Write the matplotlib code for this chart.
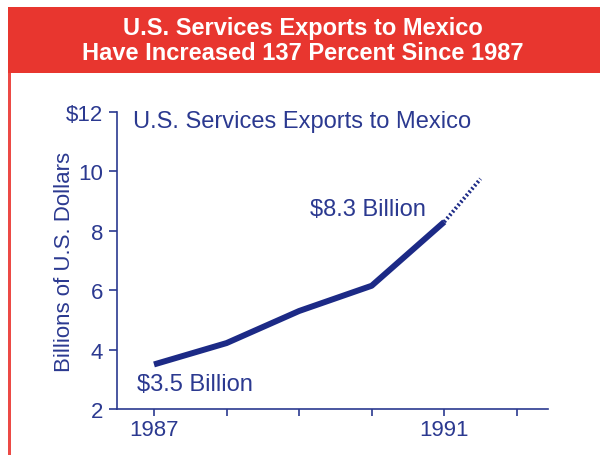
import matplotlib
matplotlib.use('Agg')
import matplotlib.pyplot as plt
from matplotlib.patches import Rectangle

plt.rcParams['font.family'] = ['Liberation Sans', 'DejaVu Sans']

# services exports, billions of dollars
years = [1987, 1988, 1989, 1990, 1991]
exports = [3.5, 4.22, 5.3, 6.15, 8.3]
# projected continuation past 1991
proj_years = [1991, 1991.5]
proj_exports = [8.3, 9.75]

xticks = [1987, 1988, 1989, 1990, 1991, 1992]
xticklabels = ['1987', '', '', '', '1991', '']
yticks = [2, 4, 6, 8, 10, 12]
yticklabels = ['2', '4', '6', '8', '10', '$12']

navy = '#2b3990'
line_col = '#1c2a86'
red = '#e8362f'

fig = plt.figure(figsize=(6, 4.56), dpi=100)
fig.patch.set_facecolor('white')

# red banner and left border
fig.patches.append(Rectangle((8/600, 1 - 74/456), 1 - 8/600, 66/456,
                             transform=fig.transFigure, facecolor=red,
                             edgecolor='none', zorder=0))
fig.patches.append(Rectangle((7.5/600, 0), 3/600, 1 - 74/456,
                             transform=fig.transFigure, facecolor='#ec4a45',
                             edgecolor='none', zorder=0))
fig.text(0.505, 1 - 28.5/456, 'U.S. Services Exports to Mexico', color='white',
         fontsize=17, fontweight='bold', ha='center', va='center')
fig.text(0.505, 1 - 53.5/456, 'Have Increased 137 Percent Since 1987', color='white',
         fontsize=17, fontweight='bold', ha='center', va='center')

ax = fig.add_axes([117/600, 46/456, (548 - 117)/600, (410 - 113)/456])
ax.plot(years, exports, color=line_col, linewidth=4.3, solid_capstyle='butt')
ax.plot(proj_years, proj_exports, color=line_col, linewidth=2.8,
        linestyle=(0, (0.5, 0.6)))

ax.set_xlim(1986.49, 1992.43)
ax.set_ylim(2, 12)
ax.set_xticks(xticks)
ax.set_xticklabels(xticklabels)
ax.set_yticks(yticks)
ax.set_yticklabels(yticklabels)

for side in ['top', 'right']:
    ax.spines[side].set_visible(False)
for side in ['left', 'bottom']:
    ax.spines[side].set_color(navy)
    ax.spines[side].set_linewidth(1.2)
ax.tick_params(colors=navy, labelcolor=navy, labelsize=16, length=6, width=1.2,
               direction='out', pad=4)
ax.tick_params(axis='x', length=5, pad=2)

ax.set_ylabel('Billions of U.S. Dollars', color=navy, fontsize=16, va='center')
ax.yaxis.set_label_coords(-0.121, 0.5)

ax.text(1986.71, 11.7, 'U.S. Services Exports to Mexico', color=navy,
        fontsize=17, ha='left', va='center')
ax.text(1990.74, 8.73, '$8.3 Billion', color=navy, fontsize=17,
        ha='right', va='center')
ax.text(1986.77, 2.83, '$3.5 Billion', color=navy, fontsize=17,
        ha='left', va='center')

fig.savefig('out.png', dpi=100)
